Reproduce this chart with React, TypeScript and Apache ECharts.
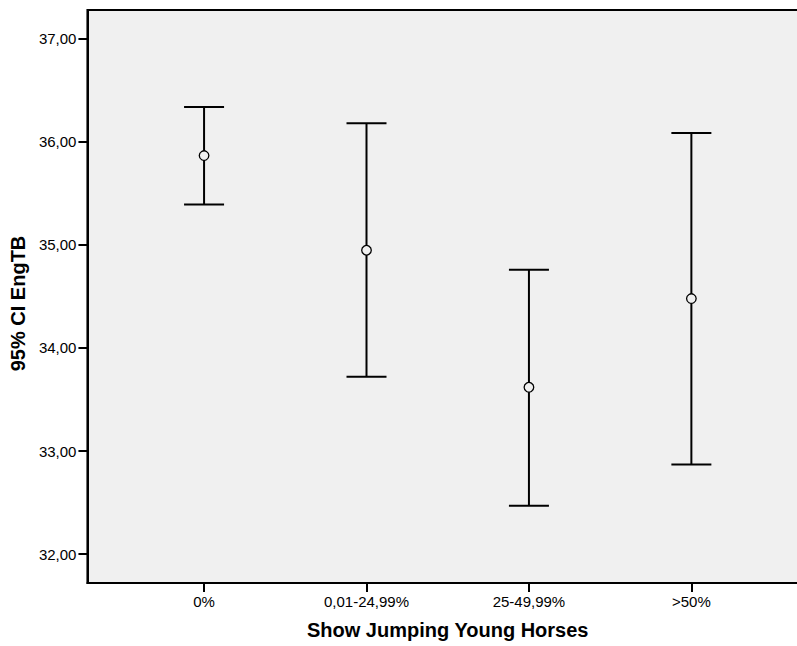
import React, { useEffect, useRef } from "react";
import * as echarts from "echarts";

const categories: string[] = ["0%", "0,01-24,99%", "25-49,99%", ">50%"];
const lowerCI: number[] = [35.39, 33.72, 32.47, 32.87];
const means: number[] = [35.865, 34.947, 33.618, 34.478];
const upperCI: number[] = [36.337, 36.178, 34.759, 36.085];
const yTicks: number[] = [32, 33, 34, 35, 36, 37];

export default function App() {
  const ref = useRef<HTMLDivElement>(null);
  useEffect(() => {
    if (!ref.current) return;
    const chart = echarts.init(ref.current, undefined, { renderer: "svg" });
    const data = categories.map((_, i) => [i, lowerCI[i], means[i], upperCI[i]]);
    const font = "'Liberation Sans', Arial, sans-serif";
    chart.setOption({
      animation: false,
      backgroundColor: "#ffffff",
      grid: {
        left: 86,
        top: 10,
        right: 12,
        bottom: 63,
        show: true,
        backgroundColor: "#f0f0f0",
        borderColor: "#000000",
        borderWidth: 2,
      },
      xAxis: {
        type: "value",
        min: -0.718,
        max: 3.718,
        name: "Show Jumping Young Horses",
        nameLocation: "middle",
        nameGap: 37,
        nameTextStyle: { fontFamily: font, fontWeight: "bold", fontSize: 20, color: "#000" },
        axisLine: { show: true, onZero: false, lineStyle: { color: "#000", width: 2 } },
        axisTick: { show: true, length: 9, customValues: [0, 1, 2, 3], lineStyle: { color: "#000", width: 2 } },
        axisLabel: {
          customValues: [0, 1, 2, 3],
          formatter: (v: number) => categories[Math.round(v)] ?? "",
          fontFamily: font,
          fontSize: 15,
          color: "#000",
          margin: 11,
        },
        splitLine: { show: false },
      },
      yAxis: {
        type: "value",
        min: 31.72,
        max: 37.277,
        name: "95% CI EngTB",
        nameLocation: "middle",
        nameGap: 54,
        nameTextStyle: { fontFamily: font, fontWeight: "bold", fontSize: 20, color: "#000", padding: [0, 14, 0, 0] },
        axisLine: { show: true, onZero: false, lineStyle: { color: "#000", width: 2 } },
        axisTick: { show: true, length: 9, customValues: yTicks, lineStyle: { color: "#000", width: 2 } },
        axisLabel: {
          customValues: yTicks,
          formatter: (v: number) => v.toFixed(2).replace(".", ","),
          fontFamily: font,
          fontSize: 15,
          color: "#000",
          margin: 11,
        },
        splitLine: { show: false },
      },
      series: [
        {
          type: "custom",
          data,
          renderItem: (params: any, api: any) => {
            const x = api.value(0);
            const lo = api.coord([x, api.value(1)]);
            const mid = api.coord([x, api.value(2)]);
            const hi = api.coord([x, api.value(3)]);
            const half = 20;
            const r = 4.8;
            const ls = { stroke: "#000", lineWidth: 2 };
            return {
              type: "group",
              children: [
                { type: "line", shape: { x1: hi[0], y1: hi[1], x2: mid[0], y2: mid[1] - r }, style: ls },
                { type: "line", shape: { x1: mid[0], y1: mid[1] + r, x2: lo[0], y2: lo[1] }, style: ls },
                { type: "line", shape: { x1: hi[0] - half, y1: hi[1], x2: hi[0] + half, y2: hi[1] }, style: ls },
                { type: "line", shape: { x1: lo[0] - half, y1: lo[1], x2: lo[0] + half, y2: lo[1] }, style: ls },
                {
                  type: "circle",
                  shape: { cx: mid[0], cy: mid[1], r },
                  style: { fill: "none", stroke: "#000", lineWidth: 1.3 },
                },
              ],
            };
          },
        },
      ],
    });
    return () => chart.dispose();
  }, []);
  return (
    <div style={{ position: "absolute", left: 0, top: 0, width: 797, height: 646, overflow: "hidden" }}>
      <div ref={ref} style={{ width: 820, height: 646 }} />
    </div>
  );
}
